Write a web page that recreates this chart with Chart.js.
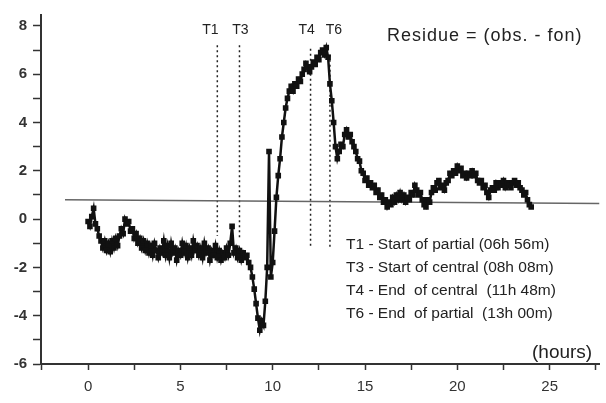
<!DOCTYPE html>
<html lang="en">

<head>
    <meta charset="UTF-8">
    <title>Residue</title>
    <script src="https://cdn.jsdelivr.net/npm/chart.js"></script>
    <style>
        body { margin: 0; background: #fff; }
    </style>
</head>

<body>
    <canvas id="residueChart" width="606" height="403"></canvas>

    <script>
        // sampling grid of the record (hours)
        const startHour = 0;
        const stepHour = 0.1;

        // residue = obs. - fon, every 0.1 h from 0 to 24 h
        const residue = [
            -0.1, -0.3, 0.1, 0.45, -0.2, -0.4, -0.7, -0.9, -1.2, -0.9,
            -1.3, -1.0, -1.35, -0.9, -1.2, -0.8, -1.1, -0.7, -0.4, -0.6,
            0.0, -0.2, -0.1, -0.5, -0.4, -0.8, -0.6, -1.0, -0.8, -1.2,
            -0.9, -1.3, -1.0, -1.4, -1.1, -1.5, -1.0, -1.3, -1.6, -1.2,
            -1.4, -0.9, -1.5, -1.1, -1.6, -1.0, -1.4, -1.2, -1.7, -1.3,
            -1.5, -1.0, -1.4, -1.1, -1.6, -1.2, -1.5, -0.9, -1.3, -1.1,
            -1.5, -1.2, -1.6, -1.0, -1.4, -1.2, -1.7, -1.3, -1.5, -1.1,
            -1.6, -1.3, -1.7, -1.4, -1.6, -1.2, -1.5, -1.0, -0.3, -1.4,
            -1.2, -1.6, -1.3, -1.7, -1.4, -1.6, -1.5, -1.8, -2.0, -2.4,
            -2.9, -3.5, -4.1, -4.6, -4.2, -4.4, -3.4, -2.0, 2.8, -2.4,
            -1.8, -0.5, 0.9, 1.8, 2.5, 3.4, 4.0, 4.6, 5.0, 5.3,
            5.5, 5.3, 5.6, 5.5, 5.8, 5.7, 6.0, 6.2, 6.45, 6.3,
            6.1, 6.3, 6.5, 6.4, 6.7, 6.6, 6.9, 7.0, 6.8, 7.1,
            6.7, 5.6, 4.9, 4.0, 3.0, 2.5, 2.8, 3.1, 3.0, 3.5,
            3.7, 3.4, 3.5, 3.2, 3.0, 2.8, 2.5, 2.4, 2.0, 1.9,
            1.6, 1.7, 1.4, 1.5, 1.3, 1.4, 1.1, 1.2, 0.9, 1.0,
            0.7, 0.8, 0.5, 0.7, 0.6, 0.9, 0.7, 1.0, 0.8, 1.1,
            0.8, 1.0, 0.7, 0.9, 0.8, 1.1, 1.0, 1.4, 1.2, 1.0,
            1.1, 0.8, 0.6, 0.5, 0.8, 0.7, 1.1, 1.3, 1.2, 1.5,
            1.6, 1.3, 1.4, 1.2, 1.5, 1.6, 1.9, 1.8, 2.0, 1.9,
            2.2, 2.0, 2.1, 1.8, 1.9, 1.7, 1.9, 1.8, 2.0, 1.8,
            1.9, 1.6, 1.5, 1.6, 1.3, 1.4, 1.1, 0.9, 1.2, 1.3,
            1.2, 1.5, 1.3, 1.5, 1.4, 1.6, 1.3, 1.5, 1.4, 1.3,
            1.5, 1.6, 1.4, 1.5, 1.3, 1.2, 1.0, 1.1, 0.8, 0.6,
            0.5
        ];

        // reference level line (two ends, hours / value)
        const levelHours = [-1.25, 27.7];
        const levelValues = [0.8, 0.65];

        // contact times as marked on the plot
        const contactNames = ['T1', 'T3', 'T4', 'T6'];
        const contactHours = [7.0, 8.2, 12.05, 13.1];
        const contactTop = [7.2, 7.2, 7.05, 6.8];
        const contactBottom = [-0.7, -0.8, -1.15, -1.15];

        const legendLines = [
            'T1 - Start of partial (06h 56m)',
            'T3 - Start of central (08h 08m)',
            'T4 - End  of central  (11h 48m)',
            'T6 - End  of partial  (13h 00m)'
        ];

        const residuePoints = residue.map((v, i) => ({ x: startHour + i * stepHour, y: v }));

        const datasets = [{
            data: residuePoints,
            borderColor: '#111',
            backgroundColor: '#111',
            borderWidth: 2.5,
            pointStyle: 'rect',
            pointRadius: 2.2,
            tension: 0,
            order: 0
        }, {
            data: levelHours.map((h, i) => ({ x: h, y: levelValues[i] })),
            borderColor: '#666',
            borderWidth: 1.5,
            pointRadius: 0,
            order: 1
        }];

        contactHours.forEach((h, i) => {
            datasets.push({
                data: [{ x: h, y: contactTop[i] }, { x: h, y: contactBottom[i] }],
                borderColor: '#222',
                borderWidth: 1.5,
                borderDash: [2, 3],
                pointRadius: 0,
                order: 2
            });
        });

        // texts written on the plot
        const labelOffsets = [-7, 1, -4, 4];
        const textPlugin = {
            id: 'texts',
            afterDatasetsDraw(chart) {
                const ctx = chart.ctx;
                const xs = chart.scales.x;
                ctx.save();
                ctx.fillStyle = '#222';
                ctx.textBaseline = 'middle';

                ctx.font = '14px "Liberation Sans", Arial, sans-serif';
                ctx.textAlign = 'center';
                contactNames.forEach((n, i) => {
                    ctx.fillText(n, xs.getPixelForValue(contactHours[i]) + labelOffsets[i], 30);
                });

                ctx.textAlign = 'left';
                ctx.letterSpacing = '1px';
                ctx.font = '18px "Liberation Sans", Arial, sans-serif';
                ctx.fillText('Residue = (obs. - fon)', 387, 36);

                ctx.letterSpacing = '0px';
                ctx.font = '15.5px "Liberation Sans", Arial, sans-serif';
                legendLines.forEach((t, i) => {
                    ctx.fillText(t, 346, 245 + i * 23);
                });

                ctx.font = '19px "Liberation Sans", Arial, sans-serif';
                ctx.fillText('(hours)', 532, 353);
                ctx.restore();
            }
        };

        const ctx = document.getElementById('residueChart').getContext('2d');
        new Chart(ctx, {
            type: 'line',
            data: { datasets: datasets },
            plugins: [textPlugin],
            options: {
                responsive: false,
                animation: false,
                layout: { padding: { top: 10, right: 6, left: 0, bottom: 0 } },
                plugins: {
                    legend: { display: false },
                    tooltip: { enabled: false }
                },
                scales: {
                    x: {
                        type: 'linear',
                        min: -2.55,
                        max: 27.7,
                        afterFit: (scale) => { scale.height = 39; },
                        border: { display: true, color: '#333', width: 2 },
                        grid: { drawOnChartArea: false, drawTicks: true, tickLength: 6, color: '#333', tickWidth: 1.5 },
                        ticks: {
                            stepSize: 2.5,
                            includeBounds: false,
                            maxRotation: 0,
                            autoSkip: false,
                            padding: 8,
                            color: '#333',
                            font: { family: '"Liberation Sans", Arial, sans-serif', size: 15 },
                            callback: (v) => (v % 5 === 0 ? v : '')
                        }
                    },
                    y: {
                        min: -6,
                        max: 8.45,
                        afterFit: (scale) => { scale.width = 41; },
                        border: { display: true, color: '#333', width: 2 },
                        grid: { drawOnChartArea: false, drawTicks: true, tickLength: 8, color: '#333', tickWidth: 1.5 },
                        ticks: {
                            stepSize: 1,
                            includeBounds: false,
                            autoSkip: false,
                            padding: 6,
                            color: '#333',
                            font: { family: '"Liberation Sans", Arial, sans-serif', size: 15, weight: 'bold' },
                            callback: (v) => (v % 2 === 0 ? v : '')
                        }
                    }
                }
            }
        });
    </script>
</body>

</html>
